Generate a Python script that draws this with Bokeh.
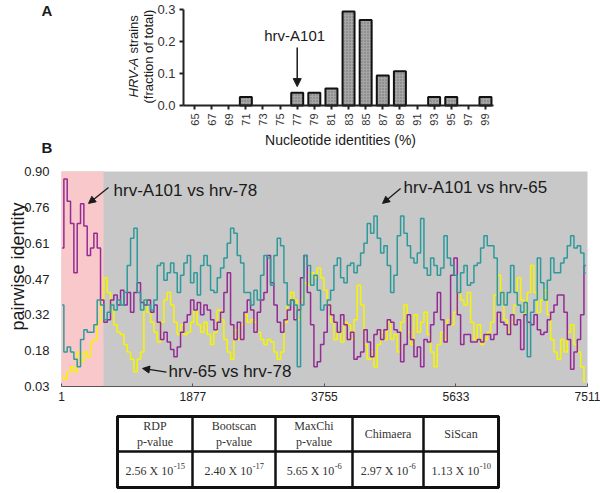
import numpy as np
from bokeh.plotting import figure
from bokeh.layouts import column
from bokeh.models import (Range1d, FixedTicker, Label, Arrow, NormalHead,
                          NumeralTickFormatter)
from bokeh.embed import file_html
from bokeh.resources import INLINE
from bokeh.core.properties import value

# ---------------- Panel A data ----------------
identity_bins = [65, 67, 69, 71, 73, 75, 77, 79, 81, 83, 85, 87, 89, 91, 93, 95, 97, 99]
strain_fraction = [0, 0, 0, 0.0267, 0, 0, 0.04, 0.04, 0.0533, 0.2933, 0.2667,
                   0.0933, 0.1067, 0, 0.0267, 0.0267, 0, 0.0267]
a_yticks = [0.0, 0.1, 0.2, 0.3]

# ---------------- Panel B data (sliding-window identity) ----------------
window_pos = [11 + 47.6 * k for k in range(158)]
a101_vs_65 = [0.36, 0.17, 0.19, 0.17, 0.14, 0.11, 0.22, 0.26, 0.25, 0.25,
              0.28, 0.38, 0.36, 0.30, 0.33, 0.36, 0.34, 0.38, 0.36, 0.41,
              0.52, 0.63, 0.67, 0.41, 0.34,
              0.38, 0.36, 0.34, 0.38, 0.52, 0.53, 0.46, 0.49, 0.53, 0.49,
              0.41, 0.48, 0.53, 0.56, 0.45, 0.49, 0.40, 0.52, 0.56, 0.52,
              0.42, 0.41, 0.47, 0.51, 0.55, 0.61, 0.67,
              0.65, 0.56, 0.53, 0.41, 0.41, 0.36, 0.42, 0.38, 0.48, 0.56,
              0.55, 0.44, 0.56, 0.63, 0.60, 0.45, 0.36, 0.38, 0.36, 0.11,
              0.36, 0.56, 0.52, 0.44, 0.48, 0.42, 0.34,
              0.36, 0.38, 0.42, 0.52, 0.55, 0.47, 0.45, 0.52, 0.53, 0.49,
              0.52, 0.57, 0.61, 0.69, 0.65, 0.72, 0.63, 0.57, 0.60, 0.52,
              0.41, 0.48, 0.64, 0.72, 0.65, 0.60, 0.55,
              0.53, 0.57, 0.71, 0.51, 0.48, 0.55, 0.52, 0.48, 0.51, 0.64,
              0.55, 0.52, 0.48, 0.41, 0.49, 0.52, 0.44, 0.45, 0.52, 0.53,
              0.59, 0.64, 0.60, 0.60, 0.55, 0.36, 0.41,
              0.36, 0.41, 0.52, 0.41, 0.36, 0.33, 0.37, 0.15, 0.33, 0.38,
              0.55, 0.45, 0.38, 0.46, 0.55, 0.49, 0.49, 0.53, 0.55, 0.60,
              0.64, 0.59, 0.60, 0.57, 0.49]
a101_vs_78 = [0.59, 0.87, 0.78, 0.69, 0.49, 0.69, 0.77, 0.68, 0.56, 0.59,
              0.65, 0.59, 0.38, 0.29, 0.30, 0.38, 0.40, 0.36, 0.42, 0.36,
              0.41, 0.33, 0.41, 0.45, 0.37,
              0.36, 0.38, 0.33, 0.36, 0.29, 0.22, 0.25, 0.21, 0.18, 0.15,
              0.19, 0.25, 0.29, 0.32, 0.38, 0.34, 0.37, 0.32, 0.36, 0.34,
              0.30, 0.26, 0.29, 0.33, 0.41, 0.49, 0.28,
              0.22, 0.29, 0.22, 0.33, 0.38, 0.34, 0.25, 0.33, 0.38, 0.41,
              0.56, 0.45, 0.36, 0.29, 0.25, 0.30, 0.34, 0.38, 0.30, 0.34,
              0.47, 0.56, 0.41, 0.28, 0.11, 0.13, 0.20,
              0.25, 0.36, 0.32, 0.29, 0.25, 0.32, 0.28, 0.22, 0.25, 0.14,
              0.15, 0.17, 0.26, 0.21, 0.15, 0.24, 0.26, 0.22, 0.26, 0.30,
              0.29, 0.26, 0.25, 0.13, 0.20, 0.32, 0.22,
              0.15, 0.19, 0.11, 0.22, 0.21, 0.28, 0.33, 0.41, 0.30, 0.21,
              0.28, 0.48, 0.55, 0.32, 0.20, 0.24, 0.24, 0.21, 0.21, 0.22,
              0.21, 0.24, 0.24, 0.22, 0.24, 0.33, 0.29,
              0.28, 0.24, 0.32, 0.28, 0.30, 0.18, 0.32, 0.29, 0.28, 0.32,
              0.26, 0.24, 0.25, 0.30, 0.33, 0.36, 0.40, 0.40, 0.33, 0.22,
              0.10, 0.17, 0.22, 0.32, 0.52]
hrv65_vs_78 = [0.07, 0.06, 0.09, 0.11, 0.09, 0.17, 0.13, 0.17, 0.15, 0.21,
               0.22, 0.29, 0.38, 0.47, 0.41, 0.34, 0.28, 0.25, 0.24, 0.20,
               0.17, 0.14, 0.09, 0.14, 0.17,
               0.38, 0.33, 0.29, 0.25, 0.21, 0.29, 0.38, 0.41, 0.36, 0.29,
               0.24, 0.28, 0.24, 0.25, 0.29, 0.34, 0.28, 0.25, 0.29, 0.24,
               0.20, 0.25, 0.34, 0.30, 0.22, 0.17, 0.14,
               0.26, 0.22, 0.28, 0.32, 0.29, 0.30, 0.29, 0.25, 0.22, 0.20,
               0.22, 0.21, 0.17, 0.14, 0.17, 0.29, 0.36, 0.41, 0.38, 0.30,
               0.38, 0.45, 0.44, 0.49, 0.47, 0.51, 0.47,
               0.42, 0.36, 0.29, 0.22, 0.25, 0.21, 0.29, 0.28, 0.22, 0.30,
               0.44, 0.36, 0.20, 0.14, 0.17, 0.11, 0.20, 0.25, 0.22, 0.29,
               0.22, 0.24, 0.17, 0.29, 0.36, 0.25, 0.20,
               0.32, 0.25, 0.29, 0.33, 0.24, 0.17, 0.11, 0.20, 0.25, 0.22,
               0.30, 0.28, 0.33, 0.41, 0.38, 0.36, 0.41, 0.29, 0.22, 0.28,
               0.20, 0.22, 0.25, 0.29, 0.40, 0.48, 0.41,
               0.30, 0.25, 0.29, 0.36, 0.47, 0.38, 0.32, 0.41, 0.52, 0.41,
               0.33, 0.38, 0.42, 0.32, 0.22, 0.17, 0.14, 0.22, 0.17, 0.25,
               0.28, 0.20, 0.17, 0.11, 0.05]
genome_span = [1, 7511]
recomb_region = [1, 601]
identity_span = [0.03, 0.90]
b_xticks = [1, 1877, 3755, 5633, 7511]
b_yticks = [0.03, 0.175, 0.32, 0.465, 0.61, 0.755, 0.90]
b_ylabels = ["0.03", "0.18", "0.32", "0.47", "0.61", "0.76", "0.90"]

# ---------------- Table data ----------------
methods = ["RDP\np-value", "Bootscan\np-value", "MaxChi\np-value", "Chimaera", "SiScan"]
p_mantissa = ["2.56", "2.40", "5.65", "2.97", "1.13"]
p_exponent = ["-15", "-17", "-6", "-6", "-10"]

SANS = "Liberation Sans"
SERIF = "Liberation Serif"
INK = "#1a1a1a"

# ================= Panel A =================
pa = figure(width=600, height=157, x_range=Range1d(42.33, 112.44),
            y_range=Range1d(-0.1625, 0.328),
            output_backend="svg", toolbar_location=None, min_border=0)
pa.grid.visible = False
pa.outline_line_color = None
bx = [b for b, f in zip(identity_bins, strain_fraction) if f > 0]
bt = [f for f in strain_fraction if f > 0]
pa.vbar(x=bx, top=bt, width=1.4, fill_color="#a6a6a6", line_color="#111111", line_width=2,
        hatch_pattern="dot", hatch_color="#6e6e6e", hatch_scale=3, hatch_weight=1)

for ax in (pa.xaxis[0], pa.yaxis[0]):
    ax.axis_line_width = 2
    ax.axis_line_color = "#222222"
    ax.major_tick_line_width = 2
    ax.major_tick_line_color = "#222222"
    ax.major_tick_out = 4
    ax.major_tick_in = 0
    ax.minor_tick_line_color = None
    ax.major_label_text_font = SANS
    ax.major_label_text_color = "#333333"
xa = pa.xaxis[0]
xa.fixed_location = 0
xa.bounds = (63.71, 99.93)
xa.ticker = FixedTicker(ticks=identity_bins)
xa.major_label_orientation = np.pi / 2
xa.major_label_text_font_size = "11px"
xa.major_label_standoff = 4
ya = pa.yaxis[0]
ya.fixed_location = 63.71
ya.bounds = (0, 0.3)
ya.ticker = FixedTicker(ticks=a_yticks)
ya.formatter = NumeralTickFormatter(format="0.0")
ya.major_label_text_font_size = "13px"
ya.major_label_standoff = 4

pa.add_layout(Label(x=82.06, y=-0.109, text="Nucleotide identities (%)", text_align="center",
                    text_baseline="middle", text_font=SANS, text_font_size="14px",
                    text_color=INK))
pa.add_layout(Label(x=57.87, y=0.025, text="HRV-A", angle=np.pi / 2, text_align="left",
                    text_baseline="middle", text_font=SANS, text_font_style="italic",
                    text_font_size="13px", text_color=INK))
pa.add_layout(Label(x=57.87, y=0.1625, text="strains", angle=np.pi / 2, text_align="left",
                    text_baseline="middle", text_font=SANS, text_font_size="13px",
                    text_color=INK))
pa.add_layout(Label(x=59.63, y=0.153, text="(fraction of total)", angle=np.pi / 2,
                    text_align="center", text_baseline="middle", text_font=SANS,
                    text_font_size="13px", text_color=INK))
pa.add_layout(Label(x=76.7, y=0.219, text="hrv-A101", text_align="center",
                    text_baseline="middle", text_font=SANS, text_font_size="15px",
                    text_color=INK))
pa.add_layout(Arrow(x_start=77, y_start=0.181, x_end=77, y_end=0.059, line_width=1.5,
                    line_color=INK,
                    end=NormalHead(size=8, fill_color=INK, line_color=INK)))
pa.add_layout(Label(x=47.12, y=0.297, text="A", text_align="left", text_baseline="middle",
                    text_font=SANS, text_font_style="bold", text_font_size="15px",
                    text_color=INK))
pa.add_layout(Label(x=47.12, y=-0.131, text="B", text_align="left", text_baseline="middle",
                    text_font=SANS, text_font_style="bold", text_font_size="15px",
                    text_color=INK))

# ================= Panel B =================
pb = figure(width=600, height=253, x_range=Range1d(-869.96, 7696.6),
            y_range=Range1d(-0.0671, 0.9567),
            output_backend="svg", toolbar_location=None, min_border=0)
pb.grid.visible = False
pb.outline_line_color = None
pb.quad(left=[genome_span[0]], right=[genome_span[1]], bottom=[identity_span[0]],
        top=[identity_span[1]], fill_color="#c8c8c8", line_color=None)
pb.quad(left=[recomb_region[0]], right=[recomb_region[1]], bottom=[identity_span[0]],
        top=[identity_span[1]], fill_color="#f8c8cb", line_color=None)
pb.step(window_pos, hrv65_vs_78, line_color="#f5f500", line_width=1.5, mode="center")
pb.step(window_pos, a101_vs_78, line_color="#952b95", line_width=1.5, mode="center")
pb.step(window_pos, a101_vs_65, line_color="#2f9a9a", line_width=1.5, mode="center")

xb = pb.xaxis[0]
xb.fixed_location = 0.03
xb.bounds = (1, 7511)
xb.ticker = FixedTicker(ticks=b_xticks)
xb.axis_line_color = "#555555"
xb.axis_line_width = 1
xb.major_tick_in = 3
xb.major_tick_out = 0
xb.major_tick_line_color = "#555555"
xb.minor_tick_line_color = None
xb.major_label_text_font = SANS
xb.major_label_text_font_size = "12px"
xb.major_label_text_color = "#222222"
xb.major_label_standoff = 5
yb = pb.yaxis[0]
yb.fixed_location = 1
yb.bounds = (0.03, 0.90)
yb.ticker = FixedTicker(ticks=b_yticks)
yb.major_label_overrides = {t: l for t, l in zip(b_yticks, b_ylabels)}
yb.axis_line_color = None
yb.major_tick_line_color = None
yb.major_tick_out = 0
yb.major_tick_in = 0
yb.minor_tick_line_color = None
yb.major_label_text_font = SANS
yb.major_label_text_font_size = "13px"
yb.major_label_text_color = "#222222"
yb.major_label_standoff = 12

pb.add_layout(Label(x=-627, y=0.516, text="pairwise identity", angle=np.pi / 2,
                    text_align="center", text_baseline="middle", text_font=SANS,
                    text_font_size="18px", text_color=INK))

ann_font = dict(text_font=SANS, text_font_size="17px", text_color=INK,
                text_align="left", text_baseline="middle")
pb.add_layout(Label(x=744, y=0.823, text="hrv-A101 vs hrv-78", **ann_font))
pb.add_layout(Label(x=4885, y=0.835, text="hrv-A101 vs hrv-65", **ann_font))
pb.add_layout(Label(x=1529, y=0.091, text="hrv-65 vs hrv-78", **ann_font))
for xs, ys, xe, ye in [(672, 0.835, 387, 0.771), (4842, 0.831, 4585, 0.771),
                       (1500, 0.088, 1158, 0.103)]:
    pb.add_layout(Arrow(x_start=xs, y_start=ys, x_end=xe, y_end=ye, line_width=1.3,
                        line_color=INK,
                        end=NormalHead(size=7, fill_color=INK, line_color=INK)))

# ================= Table =================
pt = figure(width=600, height=83, x_range=Range1d(0, 600), y_range=Range1d(493, 410),
            output_backend="svg", toolbar_location=None, x_axis_type=None, y_axis_type=None,
            min_border=0)
pt.grid.visible = False
pt.outline_line_color = None
col_edges = [117, 192, 275, 352, 423, 498]
row_edges = [416, 451, 487]
lefts = col_edges[:-1] * 2
rights = col_edges[1:] * 2
tops = [row_edges[0]] * 5 + [row_edges[1]] * 5
bottoms = [row_edges[1]] * 5 + [row_edges[2]] * 5
pt.quad(left=lefts, right=rights, top=tops, bottom=bottoms, fill_color=None,
        line_color="#111111", line_width=2)
pt.quad(left=[col_edges[0]], right=[col_edges[-1]], top=[row_edges[0]], bottom=[row_edges[-1]],
        fill_color=None, line_color="#111111", line_width=3)
centers = [(a + b) / 2 for a, b in zip(col_edges[:-1], col_edges[1:])]
pt.text(x=centers, y=[(row_edges[0] + row_edges[1]) / 2] * 5, text=methods,
        text_align="center", text_baseline="middle", text_font=value(SERIF),
        text_font_size="12px", text_color="#333333", text_line_height=1.15)

# values row: mantissa "d.dd X 10" plus raised exponent
BASE_PX, EXP_PX = 12, 8.5
base_w = 3.972 * BASE_PX
exp_w = [(0.333 + 0.5 * (len(e) - 1)) * EXP_PX for e in p_exponent]
anchor = [c - (base_w + w) / 2 + base_w for c, w in zip(centers, exp_w)]
row2 = (row_edges[1] + row_edges[2]) / 2 + 1
pt.text(x=anchor, y=[row2] * 5, text=[m + " X 10" for m in p_mantissa],
        text_align="right", text_baseline="middle", text_font=value(SERIF),
        text_font_size=f"{BASE_PX}px", text_color="#333333")
pt.text(x=[a + 0.5 for a in anchor], y=[row2 - 4.5] * 5, text=p_exponent,
        text_align="left", text_baseline="middle", text_font=value(SERIF),
        text_font_size=f"{EXP_PX}px", text_color="#333333")

layout = column(pa, pb, pt, spacing=0)
open("out.html", "w").write(file_html(layout, INLINE))
